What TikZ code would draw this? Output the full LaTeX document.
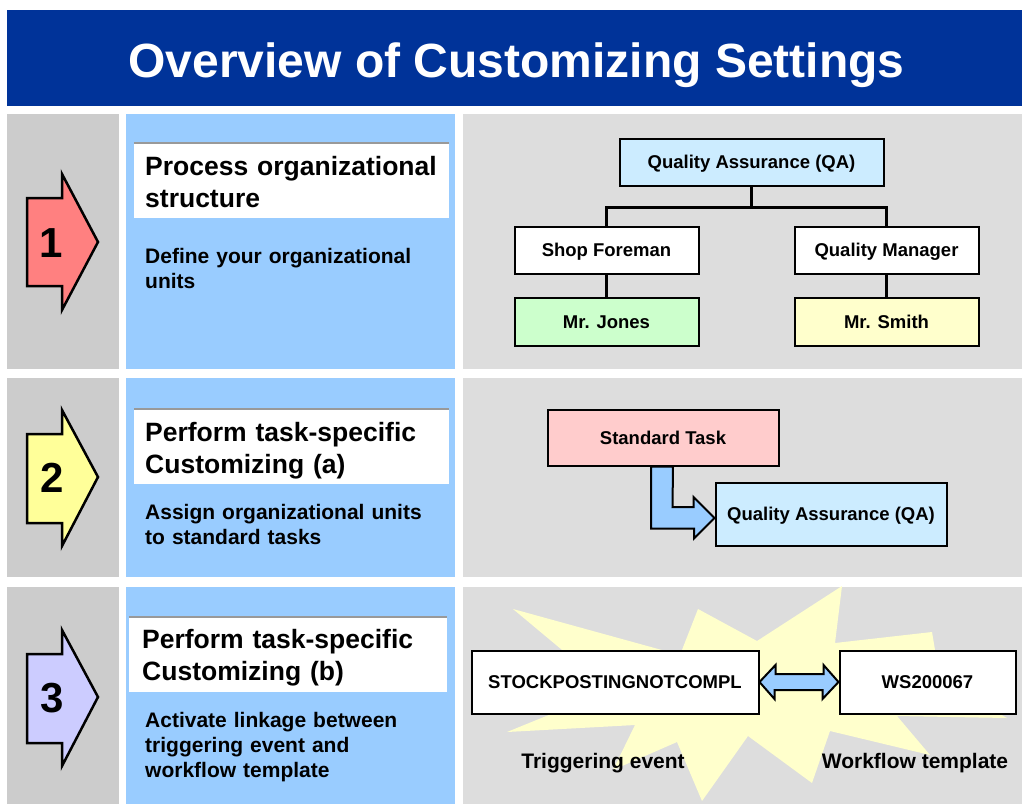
\documentclass[tikz,border=0pt]{standalone}
\usepackage{fontspec}
\setmainfont{Liberation Sans}
\usetikzlibrary{calc}
\definecolor{titleblue}{HTML}{003399}
\definecolor{leftgray}{HTML}{CCCCCC}
\definecolor{colblue}{HTML}{99CCFF}
\definecolor{rightgray}{HTML}{DDDDDD}
\definecolor{burst}{HTML}{FFFFCC}
\definecolor{qablue}{HTML}{CCECFF}
\definecolor{stpink}{HTML}{FFCCCC}
\definecolor{jgreen}{HTML}{CCFFCC}
\definecolor{syellow}{HTML}{FFFFCC}
\definecolor{arrred}{HTML}{FF8080}
\definecolor{arryellow}{HTML}{FFFF99}
\definecolor{arrpurple}{HTML}{CCCCFF}
\definecolor{arrblue}{HTML}{99CCFF}
\definecolor{topgray}{HTML}{999999}
\tikzset{
  box/.style={draw=black, line width=2pt, inner sep=0pt, text height=13.2pt, text depth=-1pt,
    font=\bfseries\fontsize{18.5}{22}\selectfont},
  conn/.style={draw=black, line width=3pt},
  stepshape/.style={draw=black, line width=2.5pt, line join=miter},
  fatarrow/.style={draw=black, fill=arrblue, line width=2pt, line join=miter},
  numtext/.style={inner sep=0pt, font=\bfseries\fontsize{42}{46}\selectfont},
  headtext/.style={anchor=base west, inner sep=0pt, text width=310pt, align=left,
    font=\bfseries\fontsize{26.5}{32}\selectfont},
  subtext/.style={anchor=base west, inner sep=0pt, text width=305pt, align=left,
    font=\bfseries\fontsize{21}{25}\selectfont},
  labeltext/.style={anchor=base, inner sep=0pt, font=\bfseries\fontsize{21}{25}\selectfont},
  whitehead/.style={fill=white},
  topline/.style={draw=topgray, line width=2pt}
}
\begin{document}
\begin{tikzpicture}[x=1pt,y=-1pt]
\useasboundingbox (0,0) rectangle (1022,804);
\fill[white] (0,0) rectangle (1022,804);
% title
\fill[titleblue] (7,10) rectangle (1022,106);
\node[anchor=base, inner sep=0pt, text=white, font=\bfseries\fontsize{48}{56}\selectfont] (title) at (516.5,77) {Overview of Customizing Settings};
% row backgrounds
\fill[leftgray] (7,114) rectangle (119,369);
\fill[colblue] (126,114) rectangle (455,369);
\fill[rightgray] (463,114) rectangle (1022,369);
\fill[leftgray] (7,378) rectangle (119,577);
\fill[colblue] (126,378) rectangle (455,577);
\fill[rightgray] (463,378) rectangle (1022,577);
\fill[leftgray] (7,587) rectangle (119,804);
\fill[colblue] (126,587) rectangle (455,804);
\fill[rightgray] (463,587) rectangle (1022,804);
% step arrows
\draw[stepshape, fill=arrred] (27,198) -- (62,198) -- (62,174) -- (98,242) -- (62,310) -- (62,286) -- (27,286) -- cycle;
\node[numtext] (n1) at (51,243) {1};
\draw[stepshape, fill=arryellow] (27,434) -- (62,434) -- (62,410) -- (98,477) -- (62,546) -- (62,523) -- (27,523) -- cycle;
\node[numtext] (n2) at (52,478) {2};
\draw[stepshape, fill=arrpurple] (27,654) -- (62,654) -- (62,630) -- (98,697) -- (62,766) -- (62,743) -- (27,743) -- cycle;
\node[numtext] (n3) at (52,698) {3};
% heading boxes
\fill[whitehead] (134,143) rectangle (449,218);
\draw[topline] (134,143) -- (449,143);
\node[headtext] (h1) at (145,175) {Process organizational\\structure};
\node[subtext] (s1) at (145,263) {Define your organizational\\units};
\fill[whitehead] (134,409) rectangle (449,484);
\draw[topline] (134,409) -- (449,409);
\node[headtext] (h2) at (145,441) {Perform task-specific\\Customizing (a)};
\node[subtext] (s2) at (145,519) {Assign organizational units\\to standard tasks};
\fill[whitehead] (129,617) rectangle (447,692);
\draw[topline] (129,617) -- (447,617);
\node[headtext] (h3) at (142,648) {Perform task-specific\\Customizing (b)};
\node[subtext] (s3) at (145,727) {Activate linkage between\\triggering event and\\workflow template};
% org chart
\node[box, fill=qablue, minimum width=264pt, minimum height=47pt] (QA) at (751.5,162) {Quality Assurance (QA)};
\node[box, fill=white, minimum width=184pt, minimum height=47pt] (SF) at (606.5,250) {Shop Foreman};
\node[box, fill=white, minimum width=184pt, minimum height=47pt] (QM) at (886.5,250) {Quality Manager};
\node[box, fill=jgreen, minimum width=184pt, minimum height=48pt] (MJ) at (606.5,321.5) {Mr. Jones};
\node[box, fill=syellow, minimum width=184pt, minimum height=48pt] (MS) at (886.5,321.5) {Mr. Smith};
\coordinate (bus) at (751.5,207);
\draw[conn] (QA.south) -- (bus);
\draw[conn, line cap=rect] (bus) -| (SF.north);
\draw[conn, line cap=rect] (bus) -| (QM.north);
\draw[conn] (SF.south) -- (MJ.north);
\draw[conn] (QM.south) -- (MS.north);
% row 2
\node[box, fill=stpink, minimum width=231pt, minimum height=56pt] (ST) at (663,437.5) {Standard Task};
\node[box, fill=qablue, minimum width=231pt, minimum height=63pt] (QA2) at (831,514) {Quality Assurance (QA)};
\draw[fatarrow] ($(QA2.west)+(0,4)$) -- ++(-21,-21) -- ++(0,10) -- ++(-21,0) -- (673,0 |- ST.south) -- ++(-22,0) -- ++(0,62) -- ++(43,0) -- ++(0,10) -- cycle;
% row 3 starburst
\fill[burst] (513,609) -- (680,655) -- (698,609) -- (757,641) -- (842,586) -- (835,643) -- (932,632) -- (940,680) -- (1007,718) -- (897,716) -- (930,755) -- (830,731) -- (812,783) -- (748,736) -- (702,801) -- (677,742) -- (613,770) -- (635,725) -- (507,732) -- (610,690) -- cycle;
\node[box, fill=white, minimum width=287pt, minimum height=63pt] (SE) at (615,682) {STOCKPOSTINGNOTCOMPL};
\node[box, fill=white, minimum width=176pt, minimum height=63pt] (WS) at (927.5,682) {WS200067};
\draw[fatarrow] (SE.east) -- ++(16,-17) -- ++(0,9) -- ++(48,0) -- ++(0,-9) -- (WS.west) -- ++(-16,17) -- ++(0,-9) -- ++(-48,0) -- ++(0,9) -- cycle;
\node[labeltext] (lte) at (603,768) {Triggering event};
\node[labeltext] (lwt) at (915,768) {Workflow template};
\end{tikzpicture}
\end{document}
